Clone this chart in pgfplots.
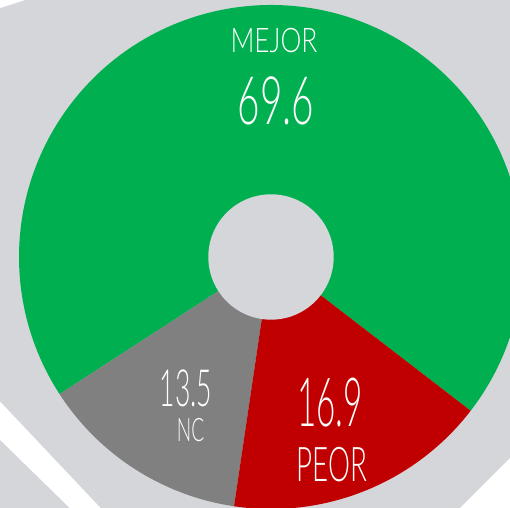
\documentclass[border=0pt]{standalone}
\usepackage{fontspec}
\usepackage{graphicx}
\usepackage{pgfplots}
\usepackage{pgfplotstable}
\pgfplotsset{compat=1.18}
\newfontfamily\lightfont{Lato}[UprightFont={* Light}]

\definecolor{bgray}{HTML}{D5D6DA}
\definecolor{mejor}{HTML}{00B050}
\definecolor{peor}{HTML}{C00000}
\definecolor{nc}{HTML}{808080}

% shares in percent, drawn counter-clockwise from the start angle
\pgfplotstableread{
label value
Mejor 69.6
NC    13.5
Peor  16.9
}\shares

% condensed label: size, horizontal squeeze, text
\newcommand\lbl[3]{{\lightfont\fontsize{#1}{#1}\selectfont\scalebox{#2}[1]{#3}}}

\begin{document}
\begin{tikzpicture}
\pgfplotstablegetelem{0}{value}\of\shares \let\vMejor\pgfplotsretval
\pgfplotstablegetelem{1}{value}\of\shares \let\vNC\pgfplotsretval
\pgfplotstablegetelem{2}{value}\of\shares \let\vPeor\pgfplotsretval
\pgfmathsetmacro\aStart{-37.6}
\pgfmathsetmacro\aA{\aStart+3.6*\vMejor}
\pgfmathsetmacro\aB{\aA+3.6*\vNC}
\pgfmathsetmacro\aC{\aB+3.6*\vPeor}
\def\R{252}
\begin{axis}[
  x=1bp, y=1bp,
  xmin=-271, xmax=239, ymin=-251, ymax=257,
  hide axis, clip=true,
]
% background and the white stripes
\fill[bgray] (axis cs:-280,-260) rectangle (axis cs:250,270);
\fill[white] (axis cs:-280,246) -- (axis cs:-246,257) -- (axis cs:-237,270) -- (axis cs:-280,270) -- cycle;
\fill[white] (axis cs:-280,-135) -- (axis cs:-161,-261) -- (axis cs:-191,-261) -- (axis cs:-280,-174) -- cycle;
\fill[white] (axis cs:179,-261) -- (axis cs:249,-191) -- (axis cs:260,-191) -- (axis cs:260,-270) -- (axis cs:170,-270) -- cycle;

% slices
\fill[mejor] (axis cs:0,0) -- (axis cs:{\R*cos(\aStart)},{\R*sin(\aStart)})
  arc[start angle=\aStart, end angle=\aA, radius=\R bp] -- cycle;
\fill[nc] (axis cs:0,0) -- (axis cs:{\R*cos(\aA)},{\R*sin(\aA)})
  arc[start angle=\aA, end angle=\aB, radius=\R bp] -- cycle;
\fill[peor] (axis cs:0,0) -- (axis cs:{\R*cos(\aB)},{\R*sin(\aB)})
  arc[start angle=\aB, end angle=\aC, radius=\R bp] -- cycle;
\fill[bgray] (axis cs:0,0) circle[radius=62.7bp];

% labels
\node[text=white, inner sep=0pt] at (axis cs:3,216) {\lbl{34}{0.777}{MEJOR}};
\node[text=white, inner sep=0pt] at (axis cs:5,156.5) {\lbl{67}{0.58}{69.6}};
\node[text=white, inner sep=0pt] at (axis cs:-85,-131.5) {\lbl{51.5}{0.518}{13.5}};
\node[text=white, inner sep=0pt] at (axis cs:-80.5,-173.5) {\lbl{32.5}{0.59}{NC}};
\node[text=white, inner sep=0pt] at (axis cs:59,-146) {\lbl{68}{0.49}{16.9}};
\node[text=white, inner sep=0pt] at (axis cs:61,-207.5) {\lbl{48}{0.58}{PEOR}};
\end{axis}
\pgfresetboundingbox
\path[use as bounding box] (current axis.south west) rectangle (current axis.north east);
\end{tikzpicture}
\end{document}
